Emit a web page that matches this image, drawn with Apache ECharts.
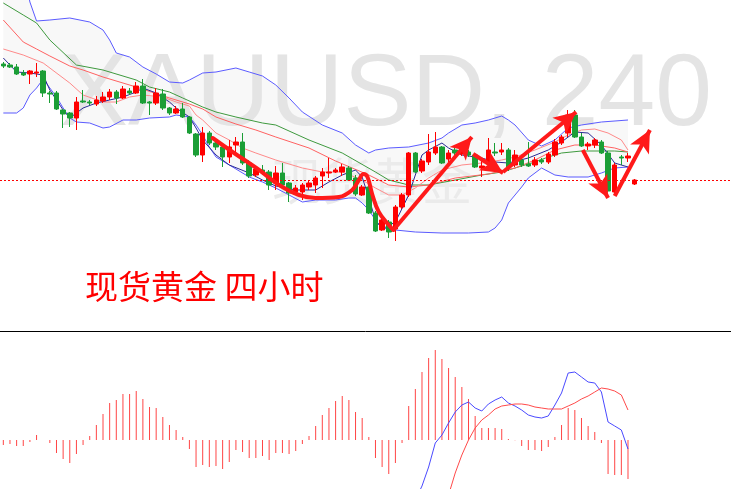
<!DOCTYPE html>
<html><head><meta charset="utf-8">
<script src="https://cdn.jsdelivr.net/npm/echarts@6/dist/echarts.min.js"></script>
<style>html,body{margin:0;padding:0;background:#fff}#c{width:731px;height:489px}</style>
</head><body><div id="c"></div>
<script>
// ---- data (prices) ----
const slotCount = 110;
const categories = Array.from({length: slotCount}, (_, i) => 'H4-' + (i + 1));
// [open, close, low, high]
const candles = [
[1896,1894,1892,1898],[1895,1893,1892,1897],[1893,1886,1885,1896],[1887,1885,1884,1890],
[1886,1889,1876,1890],[1887,1888,1883,1897],[1889,1867,1863,1890],[1867,1866,1857,1869],
[1867,1851,1850,1869],[1850,1846,1832,1851],[1847,1842,1833,1848],[1842,1858,1830,1863],
[1859,1858,1857,1870],[1858,1857,1855,1860],[1856,1860,1854,1864],[1859,1863,1857,1868],
[1863,1868,1860,1871],[1868,1862,1856,1870],[1862,1871,1861,1874],[1869,1867,1865,1872],
[1867,1874,1866,1878],[1874,1857,1856,1881],[1858,1857,1845,1859],[1857,1867,1855,1872],
[1866,1852,1850,1871],[1852,1847,1845,1853],[1847,1851,1846,1854],[1851,1843,1842,1857],
[1843,1827,1826,1844],[1826,1805,1803,1827],[1805,1827,1798,1833],[1827,1817,1815,1829],
[1817,1813,1810,1820],[1813,1803,1793,1814],[1803,1813,1797,1820],[1815,1818,1805,1823],
[1818,1797,1795,1827],[1797,1784,1782,1800],[1785,1791,1783,1794],[1790,1788,1785,1795],
[1788,1775,1770,1790],[1777,1787,1770,1794],[1787,1775,1773,1797],[1777,1767,1758,1778],
[1768,1772,1766,1775],[1768,1775,1760,1777],[1773,1777,1770,1780],[1775,1782,1767,1784],
[1784,1788,1772,1792],[1787,1788,1782,1802],[1788,1790,1787,1792],[1788,1793,1784,1796],
[1792,1780,1779,1794],[1782,1766,1764,1785],[1765,1773,1764,1775],[1773,1747,1746,1774],
[1747,1729,1728,1749],[1730,1740,1729,1742],[1738,1728,1722,1740],[1731,1753,1719,1755],
[1753,1765,1751,1767],[1765,1807,1763,1808],[1807,1788,1787,1808],[1789,1799,1787,1801],
[1798,1808,1795,1826],[1807,1813,1805,1828],[1813,1797,1796,1814],[1801,1807,1798,1810],
[1810,1807,1805,1812],[1806,1809,1804,1811],[1808,1805,1803,1810],[1805,1793,1792,1807],
[1792,1794,1783,1800],[1797,1810,1795,1822],[1808,1807,1804,1817],[1808,1810,1805,1817],
[1810,1793,1789,1812],[1795,1805,1793,1810],[1800,1795,1793,1805],[1796,1794,1793,1818],
[1795,1800,1793,1803],[1800,1798,1796,1802],[1798,1806,1796,1808],[1805,1818,1803,1821],
[1817,1823,1815,1825],[1827,1845,1823,1850],[1845,1823,1822,1850],[1823,1814,1813,1827],
[1814,1816,1810,1818],[1815,1820,1812,1822],[1818,1807,1806,1820],[1807,1769,1768,1809],
[1768,1795,1765,1797],[1803,1802,1795,1805],[1802,1804,1798,1807],[1776,1780,1775,1781]
];
const lastPrice = 1780;
// indicator lines: [bar index, price]
const bbUpper = [[0,2060],[2,2020],[3,1990],[4,1958],[5,1939],[7,1940],[10,1942],[13,1938],[15,1930],[16,1920],[17,1907],[19,1903],[21,1893],[23,1886],[25,1878],[27,1877],[28,1880],[30,1887],[32,1888],[35,1892],[37,1888],[39,1884],[41,1875],[43,1862],[45,1848],[48,1835],[51,1827],[53,1815],[55,1807],[56,1810],[58,1812],[61,1813],[64,1817],[66,1822],[67,1827],[69,1835],[71,1837],[73,1840],[75,1844],[76,1840],[77,1835],[79,1820],[81,1814],[83,1820],[85,1832],[87,1835],[90,1838],[94,1840]];
const bbLower = [[0,1847],[2,1847],[3,1852],[4,1865],[5,1872],[6,1881],[7,1872],[8,1863],[9,1852],[10,1842],[11,1838],[13,1837],[15,1832],[16,1833],[18,1840],[20,1840],[22,1842],[25,1843],[26,1845],[28,1843],[29,1835],[30,1825],[31,1813],[32,1803],[34,1795],[37,1783],[39,1778],[41,1772],[43,1765],[45,1758],[47,1760],[50,1760],[52,1762],[53,1762],[54,1757],[55,1750],[56,1740],[57,1732],[59,1730],[62,1728],[66,1727],[70,1727],[73,1728],[74,1732],[75,1740],[76,1757],[78,1773],[79,1782],[81,1792],[83,1785],[85,1783],[88,1783],[90,1787],[92,1792],[94,1793]];
const navyLine = [[0,1902],[1,1895],[2,1888],[4,1887],[6,1885],[7,1870],[8,1860],[9,1850],[10,1842],[11,1847],[12,1852],[14,1857],[16,1860],[18,1863],[20,1868],[21,1872],[23,1867],[25,1858],[26,1852],[28,1843],[29,1832],[30,1820],[32,1805],[34,1795],[37,1787],[39,1780],[41,1774],[44,1770],[47,1770],[49,1778],[51,1785],[53,1790],[54,1783],[55,1762],[56,1740],[57,1731],[59,1738],[61,1765],[62,1785],[63,1805],[64,1810],[66,1817],[67,1812],[69,1805],[72,1802],[74,1798],[76,1797],[79,1802],[82,1810],[84,1818],[86,1828],[88,1827],[90,1815],[92,1797],[94,1793]];
const maGreen = [[0,1957],[3,1945],[5,1937],[7,1920],[11,1895],[15,1890],[20,1880],[22,1873],[25,1868],[27,1862],[30,1853],[32,1848],[35,1843],[39,1837],[41,1835],[46,1820],[51,1807],[56,1788],[58,1780],[61,1775],[64,1775],[68,1780],[72,1785],[75,1788],[78,1794],[80,1798],[82,1803],[84,1807],[87,1809],[90,1809],[92,1809],[94,1808]];
const maRedA = [[0,1940],[3,1918],[5,1911],[7,1904],[10,1894],[12,1890],[15,1883],[20,1873],[25,1862],[28,1856],[30,1851],[32,1843],[35,1836],[38,1830],[41,1823],[46,1812],[50,1799],[55,1785],[58,1775],[61,1773],[64,1775],[68,1782],[73,1786],[77,1792],[80,1800],[83,1810],[86,1815],[89,1815],[92,1812],[94,1808]];
const maRedB = [[0,1911],[3,1905],[6,1897],[10,1877],[12,1865],[15,1858],[17,1858],[19,1863],[21,1865],[24,1863],[26,1858],[28,1854],[29,1845],[30,1840],[32,1827],[34,1820],[36,1812],[38,1807],[41,1800],[45,1792],[48,1788],[51,1788],[54,1780],[56,1772],[58,1765],[60,1765],[62,1772],[64,1782],[66,1790],[69,1795],[72,1797],[75,1800],[77,1803],[80,1810],[83,1818],[85,1825],[87,1830],[89,1831],[91,1827],[93,1820],[94,1810]];
// hand-drawn annotation path and arrows, in [bar index, price]
const trendCurve = [[31.5,1822],[34.5,1808],[38.5,1790],[41.5,1775],[44.5,1765],[47,1762],[50.5,1763],[52.5,1770],[53.5,1780],[54.2,1786],[54.8,1783],[55.5,1766],[56.5,1748],[58,1735],[58.7,1730]];
const arrows = [
  [[58.7,1730],[70.5,1823]],
  [[70.7,1806],[75.2,1787]],
  [[75.2,1788],[86.2,1848]],
  [[87.2,1810],[91.0,1762]],
  [[92.0,1764],[97.3,1830]]
];
// MACD panel
const macdHist = [-0.5,-0.4,-0.6,-0.6,-0.2,0.5,0,-0.3,-1.3,-1.9,
-2.3,-1.4,-0.5,0.4,1.5,2.6,3.7,4.0,4.6,4.6,
4.9,4.1,3.3,3.2,2.3,1.5,1.0,0.3,-0.9,-2.7,
-2.5,-2.7,-2.6,-2.9,-2.2,-1.0,-1.2,-1.8,-1.8,-1.6,
-2.0,-1.3,-1.3,-1.4,-1.1,-0.4,0.4,1.4,2.5,3.2,
3.9,4.4,4.0,2.8,2.2,0.3,-1.8,-2.7,-3.4,-2.3,
-0.3,3.4,5.1,6.8,8.2,9.0,8.1,7.2,6.3,5.3,
4.1,2.4,1.2,1.2,1.2,1.1,0.1,-0.03,-0.6,-1.0,
-1.0,-1.1,-0.7,0.3,1.5,3.2,3.0,2.2,1.4,0.8,
-0.3,-3.4,-3.5,-3.5,-3.9];
const macdLine = [[62,-6.0],[63,-4.6],[64,-2.7],[65,-0.3],[66,0.5],[67,1.7],[68,2.8],[69,3.5],[70,3.8],[71,3.2],[72,2.9],[73,3.6],[74,4.0],[75,4.3],[76,3.7],[77,3.4],[78,3.0],[79,2.5],[80,2.3],[81,2.2],[82,2.4],[83,3.5],[84,4.7],[85,6.7],[86,6.8],[87,6.3],[88,5.8],[89,5.7],[90,4.8],[91,1.8],[92,1.4],[93,1.0],[94,-0.9]];
const signalLine = [[67,-5.5],[68,-3.3],[69,-1.5],[70,0.0],[71,1.2],[72,2.0],[73,2.5],[74,3.1],[75,3.4],[76,3.5],[77,3.6],[78,3.6],[79,3.5],[80,3.3],[81,3.2],[82,3.1],[83,3.1],[84,3.1],[85,3.4],[86,3.7],[87,4.1],[88,4.4],[89,4.8],[90,5.2],[91,5.1],[92,4.9],[93,4.5],[94,3.0]];

// ---- chart ----
const chart = echarts.init(document.getElementById('c'), null, {renderer: 'canvas'});
function lineSeries(data, color, width, z) {
  return {type: 'line', xAxisIndex: 2, yAxisIndex: 0, data: data, symbol: 'none', silent: true,
    lineStyle: {color: color, width: width}, z: z || 3, clip: true, animation: false};
}
const option = {
  animation: false,
  backgroundColor: '#ffffff',
  grid: [
    {left: 0, top: 0, width: 733, height: 331},
    {left: 0, top: 332, width: 733, height: 157}
  ],
  xAxis: [
    {type: 'category', gridIndex: 0, data: categories, boundaryGap: true,
      axisLine: {show: true, onZero: false, lineStyle: {color: '#000', width: 1}},
      axisTick: {show: false}, axisLabel: {show: false}, splitLine: {show: false}},
    {type: 'category', gridIndex: 1, data: categories, boundaryGap: true, show: false},
    {type: 'value', gridIndex: 0, min: -0.5, max: slotCount - 0.5, show: false}
  ],
  yAxis: [
    {type: 'value', gridIndex: 0, min: 1629, max: 1960, show: false, splitLine: {show: false}},
    {type: 'value', gridIndex: 1, min: -4.9, max: 10.8, show: false, splitLine: {show: false}}
  ],
  graphic: [
    {type: 'text', left: 60, top: 46, z: 1, silent: true,
      style: {text: 'XAUUSD, 240', font: '102px "Liberation Sans"', fill: '#e4e4e4'}},
    {type: 'text', left: 272, top: 156, z: 1, silent: true,
      style: {text: '现货黄金', font: '50px "Noto Sans CJK SC"', fill: '#ebebeb'}},
    {type: 'text', left: 85, top: 270, z: 10, silent: true,
      style: {text: '现货黄金 四小时', font: '33px "Noto Sans CJK SC"', fill: '#ff0000'}}
  ],
  series: [
    {type: 'custom', xAxisIndex: 2, yAxisIndex: 0, z: 0, silent: true, clip: true,
      data: [[0, 1800]],
      renderItem: function (params, api) {
        const pts = bbUpper.map(p => api.coord(p))
          .concat(bbLower.slice().reverse().map(p => api.coord(p)));
        return {type: 'polygon', shape: {points: pts}, style: {fill: '#f8f8f8'}};
      }},
    lineSeries(maGreen, '#3f9a3f', 1),
    lineSeries(maRedA, '#ff6262', 1),
    lineSeries(maRedB, '#ff8a8a', 1),
    lineSeries(bbUpper, '#5b5bff', 1),
    lineSeries(bbLower, '#5b5bff', 1),
    lineSeries(navyLine, '#2b2b95', 1),
    {type: 'candlestick', xAxisIndex: 0, yAxisIndex: 0, data: candles, barWidth: 5, z: 4, silent: true,
      itemStyle: {color: '#ff0000', color0: '#1b9e36', borderColor: '#ff0000', borderColor0: '#1b9e36', borderWidth: 1},
      markLine: {silent: true, symbol: ['none', 'none'], label: {show: false},
        lineStyle: {color: '#ff0000', type: [2, 2], width: 1},
        data: [{yAxis: lastPrice}]}},
    {type: 'line', xAxisIndex: 2, yAxisIndex: 0, data: trendCurve, smooth: 0.4, symbol: 'none', z: 6, silent: true,
      lineStyle: {color: '#ff1a1a', width: 4, cap: 'round', join: 'round'},
      markLine: {silent: true, symbol: ['none', 'arrow'], symbolSize: [16, 22], label: {show: false},
        lineStyle: {color: '#ff1a1a', width: 4, type: 'solid'},
        data: arrows.map(a => [{coord: a[0]}, {coord: a[1]}])}},
    {type: 'bar', xAxisIndex: 1, yAxisIndex: 1, data: macdHist, barWidth: 1, silent: true,
      itemStyle: {color: '#ff4545'}},
    {type: 'line', xAxisIndex: 1, yAxisIndex: 1, data: macdLine, symbol: 'none', silent: true, clip: true,
      lineStyle: {color: '#4a4aff', width: 1}},
    {type: 'line', xAxisIndex: 1, yAxisIndex: 1, data: signalLine, symbol: 'none', silent: true, clip: true,
      lineStyle: {color: '#ff4a4a', width: 1}}
  ]
};
chart.setOption(option);
</script>
</body></html>
